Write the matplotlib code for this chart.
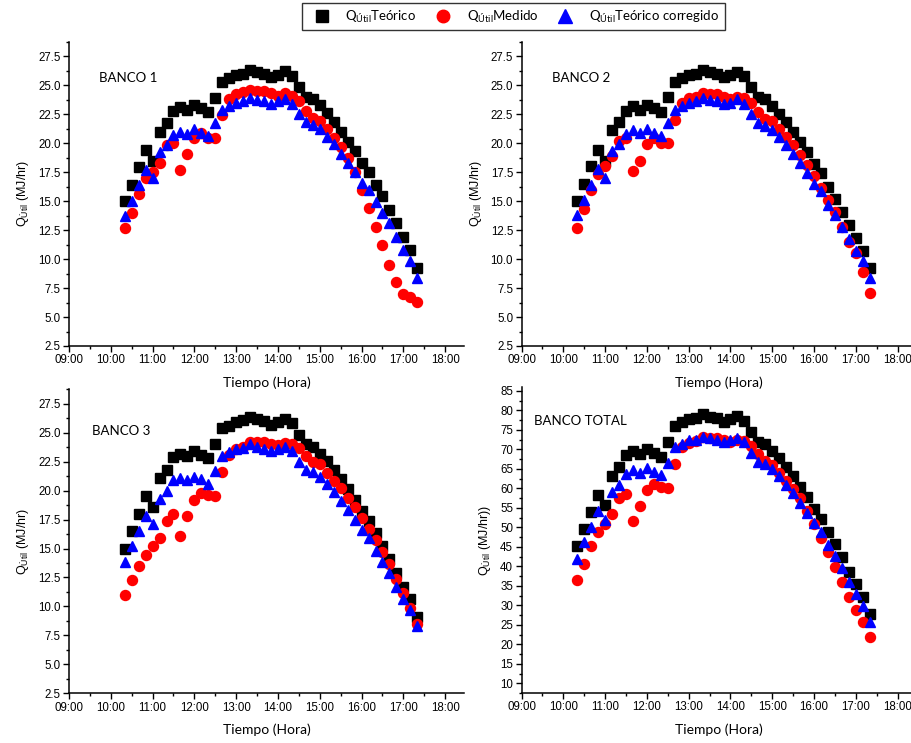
import matplotlib
matplotlib.use("Agg")
import matplotlib.pyplot as plt
from matplotlib.ticker import MultipleLocator, FuncFormatter
from matplotlib.lines import Line2D

plt.rcParams["font.family"] = ["Liberation Sans", "DejaVu Sans"]
plt.rcParams["mathtext.default"] = "regular"

TEXT_FONT = ["Lato", "DejaVu Sans"]

# Measurement times (every 10 minutes)
horas = [
    "10:20", "10:30", "10:40", "10:50", "11:00", "11:10", "11:20", "11:30", "11:40", "11:50",
    "12:00", "12:10", "12:20", "12:30", "12:40", "12:50", "13:00", "13:10", "13:20", "13:30",
    "13:40", "13:50", "14:00", "14:10", "14:20", "14:30", "14:40", "14:50", "15:00", "15:10",
    "15:20", "15:30", "15:40", "15:50", "16:00", "16:10", "16:20", "16:30", "16:40", "16:50",
    "17:00", "17:10", "17:20",
]

# BANCO 1
b1_teorico = [15.0, 16.4, 17.9, 19.4, 18.5, 21.0, 21.7, 22.8, 23.1, 22.9,
              23.3, 23.0, 22.7, 23.9, 25.3, 25.6, 25.9, 26.0, 26.3, 26.1,
              26.0, 25.7, 25.9, 26.2, 25.8, 24.8, 24.0, 23.8, 23.3, 22.6,
              21.8, 21.0, 20.1, 19.3, 18.3, 17.5, 16.4, 15.4, 14.2, 13.1,
              11.9, 10.8, 9.2]
b1_medido = [12.7, 14.0, 15.6, 17.0, 17.5, 18.3, 19.8, 20.0, 17.7, 19.1,
             20.4, 20.9, 20.4, 20.4, 22.4, 23.8, 24.2, 24.4, 24.6, 24.5,
             24.5, 24.3, 24.1, 24.3, 24.1, 23.6, 22.8, 22.2, 21.9, 21.2,
             20.4, 19.7, 18.7, 17.5, 16.0, 14.4, 12.8, 11.2, 9.5, 8.0,
             7.0, 6.7, 6.3]
b1_corregido = [13.7, 15.0, 16.4, 17.7, 17.0, 19.2, 19.8, 20.7, 21.0, 20.8,
                21.2, 20.9, 20.6, 21.7, 22.9, 23.2, 23.5, 23.6, 23.9, 23.7,
                23.6, 23.4, 23.6, 23.8, 23.4, 22.5, 21.8, 21.6, 21.2, 20.5,
                19.9, 19.1, 18.3, 17.5, 16.6, 16.0, 14.9, 14.0, 13.1, 11.9,
                10.8, 9.8, 8.4]

# BANCO 2
b2_teorico = [15.0, 16.5, 18.0, 19.4, 18.5, 21.1, 21.8, 22.8, 23.2, 22.9,
              23.3, 23.0, 22.7, 24.0, 25.3, 25.6, 25.9, 26.0, 26.3, 26.1,
              26.0, 25.7, 25.9, 26.1, 25.8, 24.8, 24.0, 23.8, 23.2, 22.5,
              21.8, 21.0, 20.1, 19.2, 18.2, 17.4, 16.2, 15.2, 14.1, 12.9,
              11.8, 10.7, 9.2]
b2_medido = [12.7, 14.3, 16.0, 17.3, 18.0, 18.9, 20.2, 20.4, 17.6, 18.5,
             19.9, 20.4, 20.0, 20.0, 22.0, 23.5, 23.9, 24.0, 24.3, 24.2,
             24.2, 24.0, 23.8, 24.0, 23.9, 23.5, 22.7, 22.1, 21.9, 21.2,
             20.5, 19.8, 19.0, 18.1, 17.2, 16.1, 15.1, 14.1, 12.8, 11.5,
             10.5, 8.9, 7.1]
b2_corregido = [13.8, 15.1, 16.4, 17.8, 17.0, 19.3, 19.9, 20.8, 21.1, 20.9,
                21.2, 20.9, 20.6, 21.7, 22.9, 23.2, 23.5, 23.6, 23.9, 23.7,
                23.6, 23.4, 23.5, 23.8, 23.4, 22.5, 21.7, 21.5, 21.1, 20.5,
                19.8, 19.1, 18.3, 17.4, 16.5, 15.9, 14.7, 13.8, 12.8, 11.7,
                10.7, 9.8, 8.4]

# BANCO 3
b3_teorico = [15.0, 16.5, 18.0, 19.5, 18.6, 21.1, 21.8, 22.9, 23.2, 23.0,
              23.4, 23.1, 22.8, 24.0, 25.4, 25.6, 25.9, 26.1, 26.4, 26.2,
              26.0, 25.7, 25.9, 26.2, 25.8, 24.8, 24.0, 23.8, 23.2, 22.6,
              21.8, 21.0, 20.1, 19.2, 18.2, 17.4, 16.3, 15.2, 14.1, 12.9,
              11.7, 10.6, 9.1]
b3_medido = [11.0, 12.3, 13.5, 14.4, 15.2, 15.9, 17.4, 18.0, 16.1, 17.8,
             19.2, 19.8, 19.6, 19.5, 21.6, 23.1, 23.6, 23.8, 24.2, 24.2,
             24.2, 24.0, 23.9, 24.1, 24.0, 23.7, 23.0, 22.5, 22.3, 21.5,
             20.8, 20.2, 19.4, 18.6, 17.6, 16.7, 15.7, 14.7, 13.7, 12.4,
             11.2, 9.9, 8.5]
b3_corregido = [13.8, 15.2, 16.5, 17.8, 17.1, 19.3, 20.0, 20.9, 21.1, 20.9,
                21.2, 21.0, 20.6, 21.7, 23.0, 23.3, 23.6, 23.7, 24.0, 23.8,
                23.6, 23.4, 23.6, 23.8, 23.4, 22.5, 21.8, 21.6, 21.2, 20.6,
                19.9, 19.1, 18.3, 17.5, 16.6, 15.9, 14.8, 13.8, 12.9, 11.7,
                10.6, 9.7, 8.3]

# BANCO TOTAL
bt_teorico = [45.1, 49.5, 53.9, 58.3, 55.7, 63.2, 65.5, 68.6, 69.5, 68.9,
              70.1, 69.1, 68.1, 71.8, 76.0, 76.9, 77.8, 78.1, 79.0, 78.3,
              78.0, 77.1, 77.7, 78.6, 77.3, 74.4, 71.8, 71.3, 69.7, 67.8,
              65.5, 63.1, 60.3, 57.7, 54.6, 52.2, 48.8, 45.6, 42.4, 38.6,
              35.4, 32.1, 27.7]
bt_medido = [36.5, 40.6, 45.3, 48.8, 50.8, 53.3, 57.4, 58.6, 51.5, 55.5,
             59.7, 61.2, 60.3, 60.0, 66.2, 70.6, 71.7, 72.2, 73.1, 73.0,
             72.9, 72.3, 71.8, 72.5, 72.2, 70.9, 68.7, 66.9, 66.1, 63.9,
             61.9, 59.9, 57.4, 54.3, 50.9, 47.2, 43.7, 39.9, 36.0, 32.0,
             28.8, 25.6, 21.9]
bt_corregido = [42.0, 46.3, 50.2, 54.3, 51.8, 59.1, 60.9, 63.8, 64.8, 64.0,
                65.2, 64.3, 63.3, 66.6, 70.5, 71.3, 72.3, 72.4, 73.2, 72.8,
                72.5, 71.8, 72.3, 72.9, 71.8, 69.1, 66.8, 66.3, 65.0, 63.2,
                60.9, 58.7, 56.2, 53.7, 51.0, 48.8, 45.4, 42.6, 39.6, 36.1,
                33.0, 29.9, 25.8]

paneles = [
    ("BANCO 1", b1_teorico, b1_medido, b1_corregido),
    ("BANCO 2", b2_teorico, b2_medido, b2_corregido),
    ("BANCO 3", b3_teorico, b3_medido, b3_corregido),
    ("BANCO TOTAL", bt_teorico, bt_medido, bt_corregido),
]

etiquetas = [r"Q$_{Útil}$Teórico", r"Q$_{Útil}$Medido", r"Q$_{Útil}$Teórico corregido"]


def a_horas(s):
    h, m = s.split(":")
    return int(h) + int(m) / 60.0


x = [a_horas(s) for s in horas]

W, H = 912, 743
fig = plt.figure(figsize=(W / 100, H / 100), dpi=100)

# axes rectangles in pixels: left, top, width, height
rects = [
    (69, 41.7, 395, 304.3),
    (521.5, 41.7, 395, 304.3),
    (69, 389.3, 395, 304.0),
    (521.5, 387.0, 395, 306.0),
]
text_pos = [(0.076, 0.88), (0.077, 0.88), (0.058, 0.863), (0.031, 0.89)]

for i, ((nombre, teo, med, cor), (l, t, w, h)) in enumerate(zip(paneles, rects)):
    ax = fig.add_axes([l / W, 1 - (t + h) / H, w / W, h / H])
    ax.patch.set_visible(False)
    ax.plot(x, teo, ls="none", marker="s", ms=7, color="black", mec="black")
    ax.plot(x, med, ls="none", marker="o", ms=7.2, color="#ff0000", mec="#ff0000")
    ax.plot(x, cor, ls="none", marker="^", ms=7.5, color="#0000ff", mec="#0000ff")

    ax.set_xlim(9, 18.45)
    ax.xaxis.set_major_locator(MultipleLocator(1))
    ax.xaxis.set_minor_locator(MultipleLocator(0.5))
    ax.xaxis.set_major_formatter(FuncFormatter(lambda v, p: f"{int(round(v)):02d}:00"))

    if i < 3:
        ax.set_ylim(2.5, 28.75)
        ax.yaxis.set_major_locator(MultipleLocator(2.5))
        ax.yaxis.set_minor_locator(MultipleLocator(1.25))
        ax.yaxis.set_major_formatter(FuncFormatter(lambda v, p: f"{v:.1f}"))
        ylab = r"Q$_{Útil}$ (MJ/hr)"
    else:
        ax.set_ylim(7.5, 86)
        ax.yaxis.set_major_locator(MultipleLocator(5))
        ax.yaxis.set_minor_locator(MultipleLocator(2.5))
        ylab = r"Q$_{Útil}$ (MJ/hr))"

    for side in ("top", "right"):
        ax.spines[side].set_visible(False)
    for side in ("left", "bottom"):
        ax.spines[side].set_linewidth(1.1)

    ax.tick_params(which="major", direction="out", length=4, width=1, labelsize=8.3, pad=2)
    ax.tick_params(which="minor", direction="out", length=2.5, width=1)

    ax.set_ylabel(ylab, fontsize=9, labelpad=5)
    ax.set_xlabel("Tiempo (Hora)", fontsize=10, family=TEXT_FONT, labelpad=7)
    ax.text(text_pos[i][0], text_pos[i][1], nombre, transform=ax.transAxes,
            fontsize=9.5, family=TEXT_FONT, va="center", ha="left")

handles = [
    Line2D([], [], ls="none", marker="s", ms=8, color="black"),
    Line2D([], [], ls="none", marker="o", ms=9, color="#ff0000"),
    Line2D([], [], ls="none", marker="^", ms=9.5, color="#0000ff"),
]
leg = fig.legend(handles, etiquetas, loc="center", bbox_to_anchor=(513.5 / W, 1 - 16.5 / H),
                 ncol=3, frameon=True, fancybox=False, edgecolor="black",
                 prop={"family": TEXT_FONT, "size": 9.5}, handletextpad=0.8,
                 columnspacing=1.0, borderpad=0.45, handlelength=2.0)
leg.get_frame().set_linewidth(1.0)

fig.savefig("out.png", dpi=100)
